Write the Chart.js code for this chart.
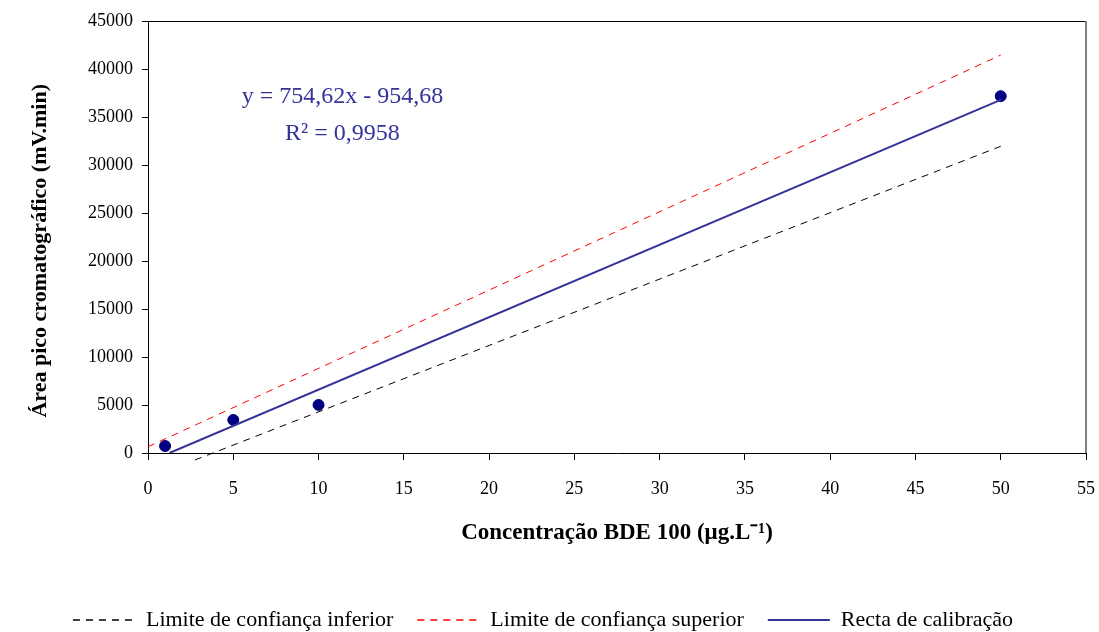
<!DOCTYPE html>
<html>
<head>
<meta charset="utf-8">
<script src="https://cdn.jsdelivr.net/npm/chart.js@4"></script>
<style>
  body { margin: 0; background: #fff; }
  #wrap { width: 1099px; height: 632px; }
</style>
</head>
<body>
<div id="wrap"><canvas id="grafico"></canvas></div>
<script>
// pontos de calibração
var concentracao = [1, 5, 10, 50];
var area = [730, 3445, 5010, 37170];

// recta de calibração e limites de confiança (extremos)
var rectaX = [1.26, 50];
var rectaY = [0, 36776];
var limSupX = [0, 50];
var limSupY = [650, 41450];
var limInfX = [2.75, 50];
var limInfY = [-730, 31950];

var xTicks = [0, 5, 10, 15, 20, 25, 30, 35, 40, 45, 50, 55];
var yTicks = [0, 5000, 10000, 15000, 20000, 25000, 30000, 35000, 40000, 45000];

var equacao = 'y = 754,62x - 954,68';
var r2 = 'R² = 0,9958';

function pares(xs, ys) {
    var out = [];
    for (var i = 0; i < xs.length; i++) {
        out.push({x: xs[i], y: ys[i]});
    }
    return out;
}

var serif = 'Liberation Serif';

var moldura = {
    id: 'moldura',
    afterDraw: function(chart) {
        var a = chart.chartArea;
        var ctx = chart.ctx;
        ctx.save();
        ctx.lineWidth = 1;
        ctx.strokeStyle = '#000';
        ctx.beginPath();
        ctx.moveTo(a.left, a.top + 0.5);
        ctx.lineTo(a.right, a.top + 0.5);
        ctx.stroke();
        ctx.strokeStyle = '#808080';
        ctx.lineWidth = 2;
        ctx.beginPath();
        ctx.moveTo(a.right, a.top);
        ctx.lineTo(a.right, a.bottom);
        ctx.stroke();

        // equação da recta
        var xs = chart.scales.x, ys = chart.scales.y;
        ctx.fillStyle = '#333399';
        ctx.font = '24px "' + serif + '"';
        ctx.textAlign = 'center';
        ctx.textBaseline = 'middle';
        ctx.fillText(equacao, xs.getPixelForValue(11.4), ys.getPixelForValue(37100));
        ctx.fillText(r2, xs.getPixelForValue(11.4), ys.getPixelForValue(33300));
        ctx.restore();
    }
};

var ctx = document.getElementById('grafico').getContext('2d');
var chart = new Chart(ctx, {
    type: 'scatter',
    data: {
        datasets: [{
            label: 'Limite de confiança inferior',
            type: 'line',
            data: pares(limInfX, limInfY),
            borderColor: '#000000',
            backgroundColor: 'rgba(0,0,0,0)',
            borderWidth: 1,
            borderDash: [7, 6],
            pointRadius: 0,
            clip: 12
        }, {
            label: 'Limite de confiança superior',
            type: 'line',
            data: pares(limSupX, limSupY),
            borderColor: '#ff0000',
            backgroundColor: 'rgba(0,0,0,0)',
            borderWidth: 1,
            borderDash: [7, 6],
            pointRadius: 0
        }, {
            label: 'Recta de calibração',
            type: 'line',
            data: pares(rectaX, rectaY),
            borderColor: '#333399',
            backgroundColor: 'rgba(0,0,0,0)',
            borderWidth: 2,
            pointRadius: 0
        }, {
            label: 'pontos',
            data: pares(concentracao, area),
            backgroundColor: '#000080',
            borderColor: '#000080',
            pointRadius: 5.5
        }]
    },
    options: {
        responsive: true,
        maintainAspectRatio: false,
        animation: false,
        layout: { padding: { top: 21, right: 13, left: 0, bottom: -9 } },
        plugins: {
            legend: {
                position: 'bottom',
                labels: {
                    filter: function(item) { return item.text !== 'pontos'; },
                    boxWidth: 62,
                    boxHeight: 0,
                    color: '#000',
                    padding: 24,
                    font: { family: serif, size: 22 }
                }
            },
            tooltip: { enabled: false }
        },
        scales: {
            x: {
                type: 'linear',
                min: 0,
                max: 55,
                afterBuildTicks: function(s) { s.ticks = xTicks.map(function(v) { return {value: v}; }); },
                afterFit: function(s) { s.height = 132; s.paddingRight = 13; },
                ticks: {
                    color: '#000',
                    font: { family: serif, size: 18 },
                    padding: 18,
                    callback: function(v) { return String(v); }
                },
                grid: { drawOnChartArea: false, color: '#000', tickLength: 7 },
                border: { color: '#000', width: 1 },
                title: {
                    display: true,
                    text: 'Concentração BDE 100 (μg.L⁻¹)',
                    color: '#000',
                    font: { family: serif, size: 23, weight: 'bold' },
                    padding: { top: 0, bottom: 38 }
                }
            },
            y: {
                min: 0,
                max: 45000,
                afterBuildTicks: function(s) { s.ticks = yTicks.map(function(v) { return {value: v}; }); },
                afterFit: function(s) { s.width = 148; },
                ticks: {
                    color: '#000',
                    font: { family: serif, size: 18 },
                    padding: 9,
                    callback: function(v) { return String(v); }
                },
                grid: { drawOnChartArea: false, color: '#000', tickLength: 6 },
                border: { color: '#000', width: 1 },
                title: {
                    display: true,
                    text: 'Área pico cromatográfico (mV.min)     ',
                    color: '#000',
                    font: { family: serif, size: 22, weight: 'bold' },
                    padding: { top: 27, bottom: 0 }
                }
            }
        }
    },
    plugins: [moldura]
});
</script>
</body>
</html>
